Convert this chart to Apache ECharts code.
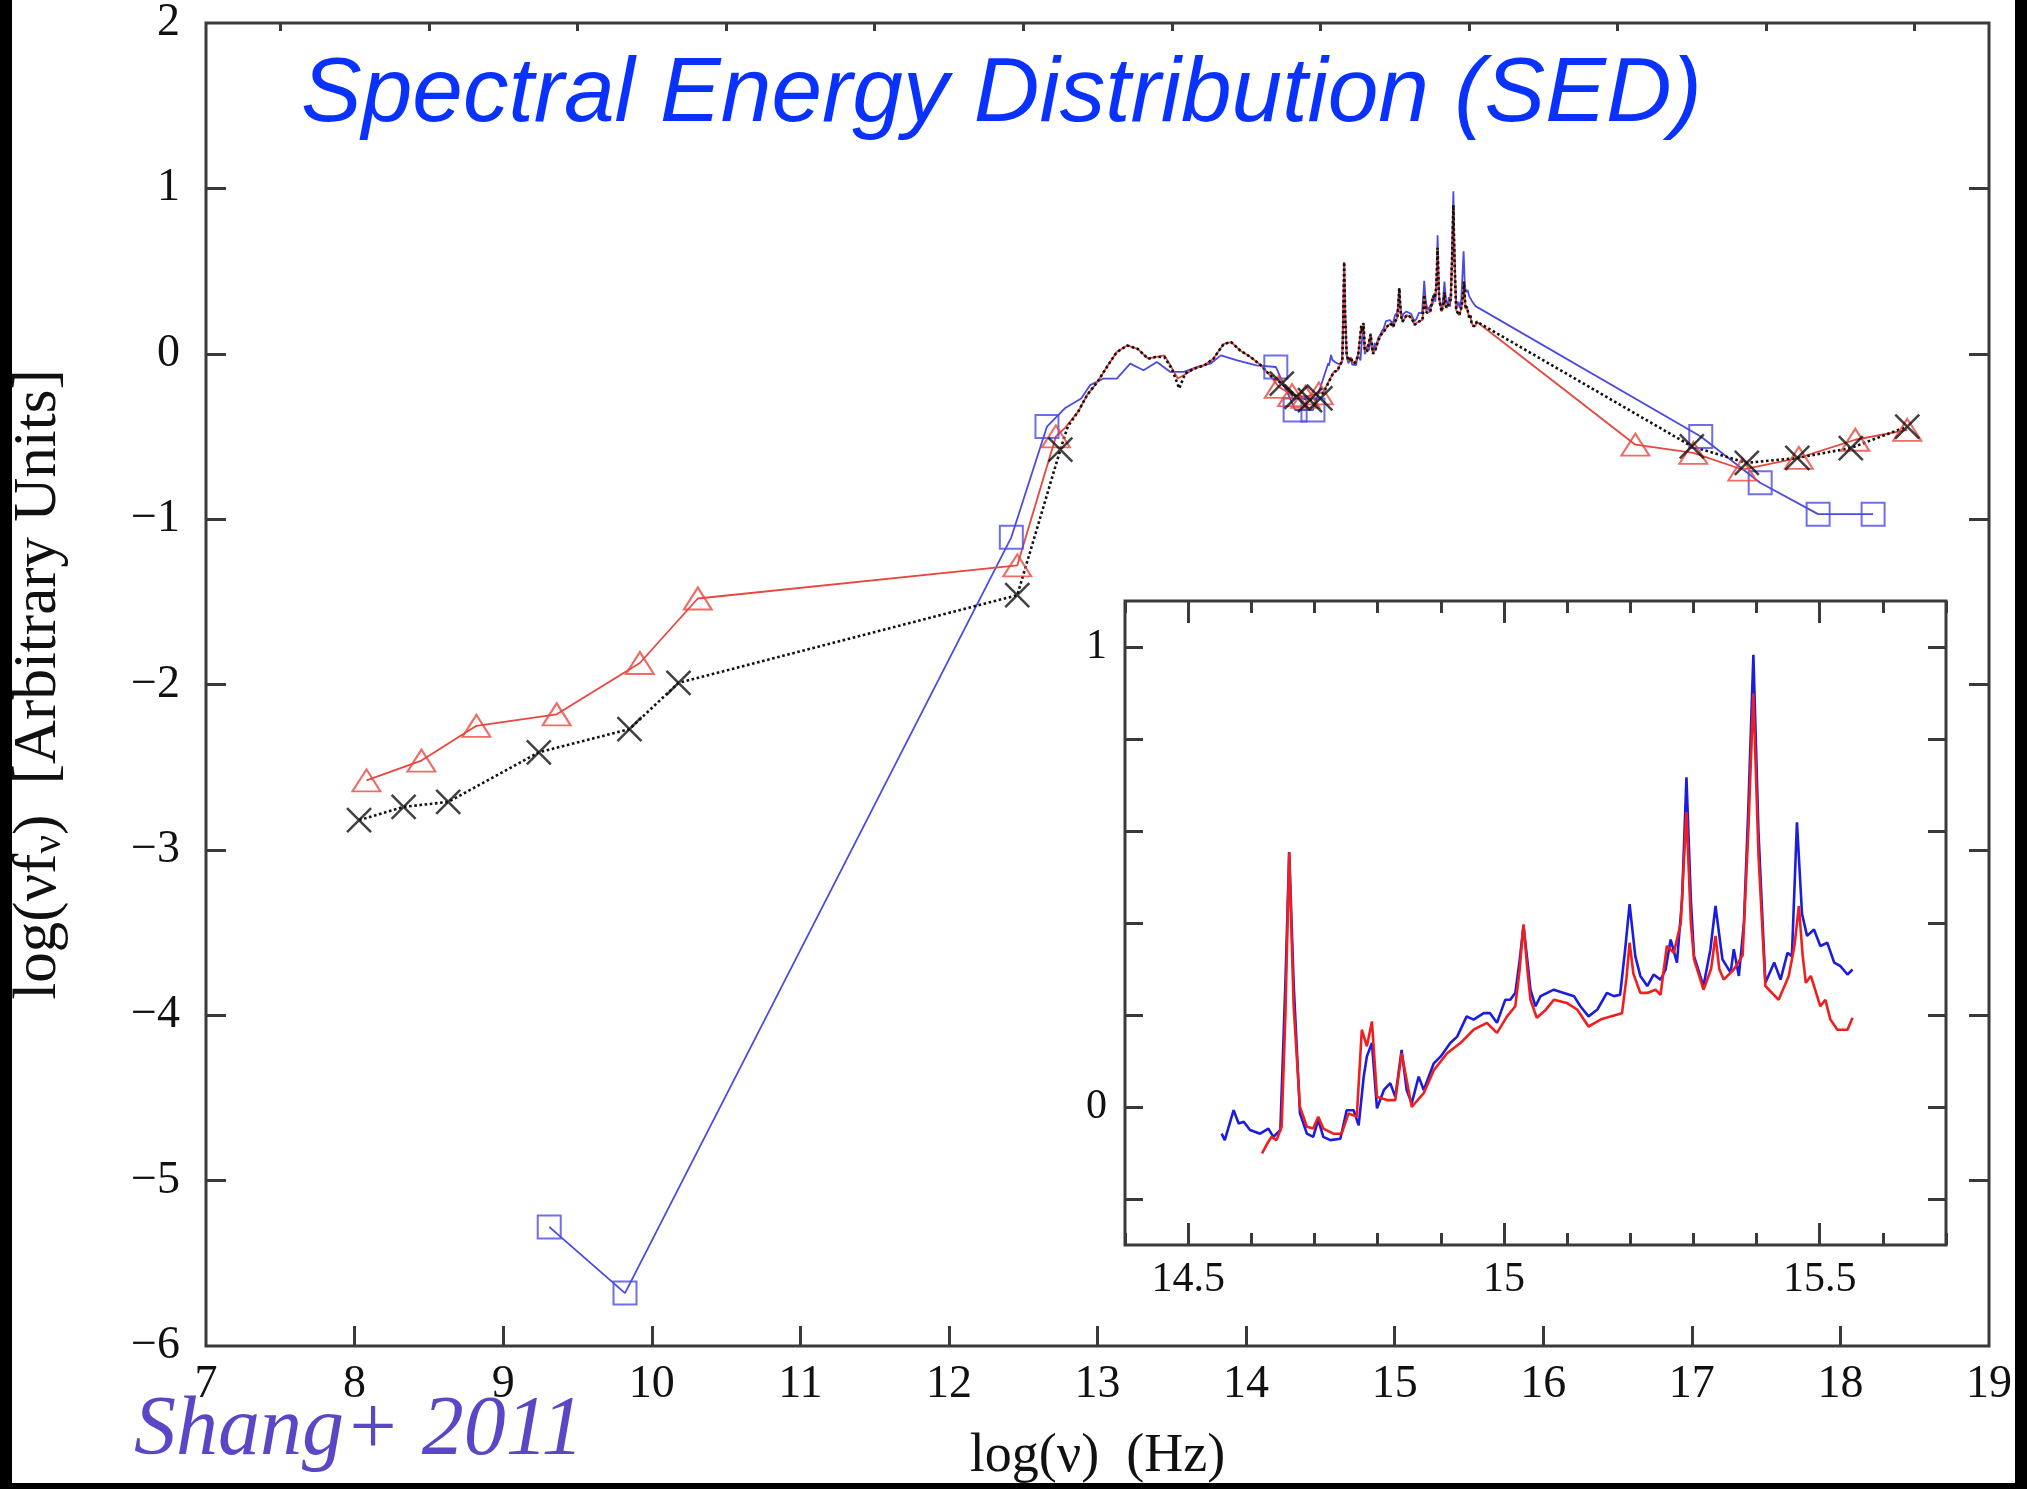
<!DOCTYPE html>
<html>
<head>
<meta charset="utf-8">
<script src="https://cdn.jsdelivr.net/npm/echarts@6/dist/echarts.min.js"></script>
<style>
  html, body { margin: 0; padding: 0; background: #fff; }
  #sed { width: 2027px; height: 1489px; }
</style>
</head>
<body>
<div id="sed"></div>
<script>
// SED plot (Shang+ 2011)

// photometry: red triangles, black crosses, blue squares  [log nu, log nuFnu]
const redPhot = [
  [8.08, -2.58], [8.45, -2.46], [8.82, -2.25], [9.36, -2.18], [9.92, -1.87], [10.31, -1.48],
  [12.46, -1.28], [12.72, -0.50],
  [14.22, -0.20], [14.31, -0.25], [14.40, -0.26], [14.49, -0.24],
  [16.62, -0.55], [17.01, -0.60], [17.34, -0.70], [17.72, -0.63], [18.10, -0.52], [18.45, -0.46]
];
const blackPhot = [
  [8.03, -2.82], [8.33, -2.74], [8.63, -2.71], [9.24, -2.41], [9.85, -2.27], [10.18, -1.99],
  [12.46, -1.46], [12.75, -0.58],
  [14.24, -0.18], [14.34, -0.26], [14.43, -0.28], [14.50, -0.27],
  [17.00, -0.56], [17.37, -0.66], [17.71, -0.63], [18.07, -0.57], [18.45, -0.44]
];
const bluePhot = [
  [9.31, -5.28], [9.82, -5.68], [12.42, -1.11], [12.66, -0.44],
  [14.20, -0.08], [14.33, -0.34], [14.45, -0.34],
  [17.06, -0.50], [17.46, -0.78], [17.85, -0.97], [18.22, -0.97]
];

// infrared continuum
const redIR = [
  [12.78, -0.45], [12.87, -0.35], [12.93, -0.25], [13.00, -0.17], [13.07, -0.07], [13.13, 0.01],
  [13.20, 0.05], [13.27, 0.03], [13.34, -0.03], [13.39, -0.02], [13.45, -0.01], [13.49, -0.07],
  [13.54, -0.15], [13.58, -0.13], [13.65, -0.09], [13.72, -0.07], [13.78, -0.03], [13.85, 0.06],
  [13.90, 0.07], [13.96, 0.02], [14.03, -0.02], [14.10, -0.07], [14.16, -0.13],
  [14.52, -0.23], [14.59, -0.11]
];
const blackIR = [
  [12.80, -0.44], [12.87, -0.35], [12.93, -0.25], [13.00, -0.17], [13.07, -0.07], [13.13, 0.01],
  [13.20, 0.05], [13.27, 0.03], [13.34, -0.03], [13.39, -0.02], [13.45, -0.02], [13.50, -0.09],
  [13.55, -0.21], [13.59, -0.12], [13.65, -0.09], [13.72, -0.07], [13.78, -0.03], [13.85, 0.06],
  [13.90, 0.07], [13.96, 0.02], [14.03, -0.02], [14.10, -0.07], [14.16, -0.13],
  [14.53, -0.22], [14.59, -0.11]
];
const blueIR = [
  [12.78, -0.33], [12.89, -0.27], [12.95, -0.19], [13.04, -0.15], [13.13, -0.15], [13.22, -0.06],
  [13.31, -0.10], [13.40, -0.05], [13.49, -0.11], [13.58, -0.11], [13.67, -0.08], [13.76, -0.06],
  [13.83, -0.01], [13.94, -0.04], [14.07, -0.07]
];

// optical/UV spectrum (same data in the inset)
const redOpt = [
  [14.617, -0.101], [14.625, -0.080], [14.632, -0.065], [14.640, -0.072], [14.648, -0.043],
  [14.654, 0.200], [14.660, 0.554], [14.667, 0.220], [14.677, 0.000], [14.688, -0.043],
  [14.698, -0.047], [14.706, -0.021], [14.714, -0.047], [14.730, -0.058], [14.743, -0.058],
  [14.754, -0.014], [14.767, -0.021], [14.775, 0.168], [14.783, 0.132], [14.791, 0.186],
  [14.799, 0.022], [14.815, 0.015], [14.828, 0.015], [14.838, 0.117], [14.854, 0.000],
  [14.873, 0.030], [14.889, 0.080], [14.910, 0.117], [14.931, 0.139], [14.952, 0.168],
  [14.973, 0.183], [14.989, 0.161], [15.005, 0.197], [15.018, 0.219], [15.025, 0.300],
  [15.031, 0.397], [15.037, 0.300], [15.042, 0.233], [15.052, 0.194], [15.066, 0.211],
  [15.079, 0.233], [15.100, 0.226], [15.116, 0.212], [15.134, 0.175], [15.153, 0.190],
  [15.169, 0.197], [15.187, 0.204], [15.194, 0.280], [15.199, 0.357], [15.205, 0.290],
  [15.216, 0.248], [15.227, 0.248], [15.240, 0.255], [15.248, 0.244], [15.258, 0.350],
  [15.269, 0.335], [15.280, 0.400], [15.289, 0.641], [15.296, 0.400], [15.301, 0.321],
  [15.316, 0.255], [15.328, 0.300], [15.335, 0.372], [15.341, 0.300], [15.348, 0.277],
  [15.364, 0.299], [15.378, 0.330], [15.387, 0.600], [15.395, 0.899], [15.403, 0.550],
  [15.414, 0.263], [15.435, 0.233], [15.451, 0.285], [15.460, 0.350], [15.467, 0.437],
  [15.473, 0.330], [15.478, 0.270], [15.486, 0.285], [15.501, 0.219], [15.509, 0.233],
  [15.517, 0.190], [15.528, 0.168], [15.544, 0.168], [15.552, 0.194]
];
const blueOpt = [
  [14.553, -0.058], [14.558, -0.072], [14.572, -0.007], [14.580, -0.036], [14.588, -0.032],
  [14.598, -0.050], [14.614, -0.058], [14.627, -0.047], [14.635, -0.065], [14.646, -0.050],
  [14.654, 0.270], [14.660, 0.554], [14.667, 0.270], [14.677, -0.014], [14.688, -0.058],
  [14.698, -0.065], [14.706, -0.028], [14.714, -0.065], [14.725, -0.072], [14.741, -0.069],
  [14.751, -0.007], [14.762, -0.007], [14.770, -0.040], [14.778, 0.066], [14.783, 0.110],
  [14.791, 0.139], [14.799, -0.003], [14.810, 0.037], [14.820, 0.052], [14.828, 0.022],
  [14.838, 0.124], [14.846, 0.037], [14.854, 0.008], [14.865, 0.066], [14.873, 0.037],
  [14.889, 0.095], [14.900, 0.110], [14.915, 0.139], [14.926, 0.153], [14.941, 0.197],
  [14.952, 0.190], [14.968, 0.204], [14.978, 0.204], [14.989, 0.183], [15.002, 0.233],
  [15.010, 0.233], [15.018, 0.248], [15.025, 0.320], [15.031, 0.394], [15.037, 0.320],
  [15.042, 0.255], [15.050, 0.219], [15.058, 0.241], [15.079, 0.255], [15.095, 0.248],
  [15.111, 0.241], [15.121, 0.219], [15.134, 0.197], [15.148, 0.212], [15.163, 0.248],
  [15.174, 0.241], [15.184, 0.244], [15.192, 0.343], [15.199, 0.441], [15.208, 0.328],
  [15.216, 0.285], [15.227, 0.263], [15.237, 0.288], [15.248, 0.277], [15.256, 0.299],
  [15.264, 0.364], [15.274, 0.314], [15.282, 0.450], [15.289, 0.717], [15.296, 0.450],
  [15.301, 0.328], [15.316, 0.263], [15.327, 0.343], [15.335, 0.437], [15.346, 0.321],
  [15.359, 0.292], [15.364, 0.343], [15.372, 0.285], [15.380, 0.400], [15.387, 0.650],
  [15.395, 0.983], [15.403, 0.600], [15.414, 0.270], [15.428, 0.314], [15.438, 0.277],
  [15.449, 0.335], [15.456, 0.328], [15.464, 0.619], [15.472, 0.420], [15.480, 0.372],
  [15.491, 0.386], [15.501, 0.350], [15.512, 0.357], [15.523, 0.314], [15.533, 0.306],
  [15.544, 0.288], [15.552, 0.299]
];

// tick positions
const mainXLabels = [7, 8, 9, 10, 11, 12, 13, 14, 15, 16, 17, 18, 19];
const mainXTicks = [8, 9, 10, 11, 12, 13, 14, 15, 16, 17, 18];
const mainTopTicks = [7.5, 8.5, 9.5, 10.5, 11.5, 12.5, 13.5, 14.5, 15.5, 16.5, 17.5, 18.5];
const mainYTicks = [-5, -4, -3, -2, -1, 0, 1];
const insetXMajor = [14.5, 15, 15.5];
const insetYTicks = [-0.2, 0, 0.2, 0.4, 0.6, 0.8, 1.0];
const insetYLabels = [0, 1];

const byX = (a, b) => a[0] - b[0];
const redLine = redPhot.concat(redIR, redOpt).sort(byX);
const blackLine = blackPhot.concat(blackIR, redOpt).sort(byX);
const blueLine = bluePhot.concat(blueIR, blueOpt).sort(byX);

const RED = '#e8473f';
const BLUE = '#4b4be2';
const INK = '#111';
const AXIS = '#3a3a3a';
const serif = 'Liberation Serif';

const minus = v => (v < 0 ? '\u2212' + Math.abs(v) : String(v));

const myChart = echarts.init(document.getElementById('sed'), null, { renderer: 'canvas' });

// axis line is drawn by the grid border; keep the axis off the zero line
const noLine = { show: false, onZero: false };
const tick = (len, vals) => ({
  show: true, inside: true, length: len,
  lineStyle: { color: AXIS, width: 3 },
  customValues: vals
});

const option = {
  animation: false,
  backgroundColor: '#fff',
  title: [
    {
      text: 'Spectral Energy Distribution (SED)',
      left: 301, top: 50, padding: 0,
      textStyle: { fontFamily: 'Liberation Sans', fontStyle: 'italic', fontWeight: 'normal', fontSize: 91, color: '#0a32ff' }
    },
    {
      text: 'Shang+ 2011',
      left: 134, top: 1390, padding: 0,
      textStyle: { fontFamily: serif, fontStyle: 'italic', fontWeight: 'normal', fontSize: 84, color: '#5a47c6' }
    }
  ],
  grid: [
    { left: 204, top: 16, width: 1785, height: 1331, show: true, borderColor: AXIS, borderWidth: 3, backgroundColor: '#fff' },
    { left: 1125, top: 601, width: 821, height: 644, show: true, borderColor: AXIS, borderWidth: 3, backgroundColor: '#fff', z: 10 }
  ],
  xAxis: [
    {
      gridIndex: 0, type: 'value', position: 'bottom', min: 7, max: 19, interval: 1,
      axisLine: noLine, splitLine: { show: false },
      axisTick: tick(20, mainXTicks),
      axisLabel: { customValues: mainXLabels, margin: 16, fontFamily: serif, fontSize: 46, color: INK },
      name: 'log(\u03bd)  (Hz)', nameLocation: 'middle', nameGap: 84,
      nameTextStyle: { fontFamily: serif, fontSize: 54, color: INK }
    },
    {
      gridIndex: 0, type: 'value', position: 'top', min: 7, max: 19, interval: 1,
      axisLine: noLine, splitLine: { show: false }, axisLabel: { show: false },
      axisTick: tick(8, mainTopTicks)
    },
    {
      gridIndex: 1, z: 11, type: 'value', position: 'bottom', min: 14.4, max: 15.7, interval: 0.1,
      axisLine: noLine, splitLine: { show: false }, axisLabel: { show: false },
      axisTick: { show: true, inside: true, length: 12, lineStyle: { color: AXIS, width: 3 } }
    },
    {
      gridIndex: 1, z: 11, type: 'value', position: 'bottom', min: 14.4, max: 15.7,
      axisLine: noLine, splitLine: { show: false },
      axisTick: tick(22, insetXMajor),
      axisLabel: { customValues: insetXMajor, margin: 14, fontFamily: serif, fontSize: 42, color: INK }
    },
    {
      gridIndex: 1, z: 11, type: 'value', position: 'top', min: 14.4, max: 15.7, interval: 0.1,
      axisLine: noLine, splitLine: { show: false }, axisLabel: { show: false },
      axisTick: { show: true, inside: true, length: 12, lineStyle: { color: AXIS, width: 3 } }
    },
    {
      gridIndex: 1, z: 11, type: 'value', position: 'top', min: 14.4, max: 15.7,
      axisLine: noLine, splitLine: { show: false }, axisLabel: { show: false },
      axisTick: tick(22, insetXMajor)
    }
  ],
  yAxis: [
    {
      gridIndex: 0, type: 'value', position: 'left', min: -6, max: 2, interval: 1,
      axisLine: noLine, splitLine: { show: false },
      axisTick: tick(20, mainYTicks),
      axisLabel: { margin: 26, fontFamily: serif, fontSize: 46, color: INK, formatter: minus },
      name: 'log(\u03bdf{sub|\u03bd})  [Arbitrary Units]', nameLocation: 'middle', nameRotate: 90, nameGap: 136,
      nameTextStyle: {
        fontFamily: serif, fontSize: 61, color: INK,
        rich: { sub: { fontFamily: serif, fontSize: 41, color: INK, padding: [22, 0, 0, 0] } }
      }
    },
    {
      gridIndex: 0, type: 'value', position: 'right', min: -6, max: 2, interval: 1,
      axisLine: noLine, splitLine: { show: false }, axisLabel: { show: false },
      axisTick: tick(20, mainYTicks)
    },
    {
      gridIndex: 1, z: 11, type: 'value', position: 'left', min: -0.3, max: 1.1,
      axisLine: noLine, splitLine: { show: false },
      axisTick: tick(18, insetYTicks),
      axisLabel: { customValues: insetYLabels, margin: 18, fontFamily: serif, fontSize: 42, color: INK }
    },
    {
      gridIndex: 1, z: 11, type: 'value', position: 'right', min: -0.3, max: 1.1,
      axisLine: noLine, splitLine: { show: false }, axisLabel: { show: false },
      axisTick: tick(18, insetYTicks)
    }
  ],
  series: [
    {
      name: 'blue', type: 'line', xAxisIndex: 0, yAxisIndex: 0, data: blueLine,
      showSymbol: false, lineStyle: { color: BLUE, width: 1.8 }, z: 2
    },
    {
      name: 'red', type: 'line', xAxisIndex: 0, yAxisIndex: 0, data: redLine,
      showSymbol: false, lineStyle: { color: RED, width: 1.8 }, z: 3
    },
    {
      name: 'black', type: 'line', xAxisIndex: 0, yAxisIndex: 0, data: blackLine,
      showSymbol: false, lineStyle: { color: INK, width: 2.6, type: 'dotted' }, z: 4
    },
    {
      type: 'scatter', xAxisIndex: 0, yAxisIndex: 0, data: bluePhot,
      symbol: 'rect', symbolSize: 23,
      itemStyle: { color: 'rgba(0,0,0,0)', borderColor: BLUE, borderWidth: 2 }, z: 5
    },
    {
      type: 'scatter', xAxisIndex: 0, yAxisIndex: 0, data: redPhot,
      symbol: 'triangle', symbolSize: [28, 22],
      itemStyle: { color: 'rgba(0,0,0,0)', borderColor: RED, borderWidth: 2 }, z: 5
    },
    {
      type: 'scatter', xAxisIndex: 0, yAxisIndex: 0, data: blackPhot,
      symbol: 'path://M0 0L10 10M10 0L0 10', symbolSize: 24,
      itemStyle: { color: 'rgba(0,0,0,0)', borderColor: INK, borderWidth: 2.5 }, z: 6
    },
    {
      name: 'inset blue', type: 'line', xAxisIndex: 2, yAxisIndex: 2, data: blueOpt,
      showSymbol: false, lineStyle: { color: '#1c1cdc', width: 2.6 }, z: 11
    },
    {
      name: 'inset red', type: 'line', xAxisIndex: 2, yAxisIndex: 2, data: redOpt,
      showSymbol: false, lineStyle: { color: '#ef1f1f', width: 2.6 }, z: 12
    }
  ],
  graphic: [
    { type: 'rect', left: 0, top: 0, z: 100, shape: { width: 12, height: 1489 }, style: { fill: '#000' } },
    { type: 'rect', left: 2015, top: 0, z: 100, shape: { width: 12, height: 1489 }, style: { fill: '#000' } },
    { type: 'rect', left: 0, top: 1483, z: 100, shape: { width: 2027, height: 6 }, style: { fill: '#000' } }
  ]
};

myChart.setOption(option);
window.addEventListener('resize', myChart.resize);
</script>
</body>
</html>
